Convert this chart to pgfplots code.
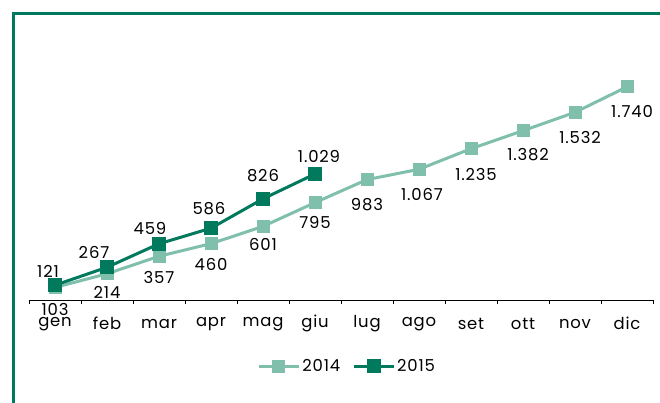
\documentclass[border=0pt]{standalone}
\usepackage{pgfplots}
\pgfplotsset{compat=1.18}
\usepackage{pgfplotstable}
\usepackage{fontspec}
\setmainfont{Poppins}[LetterSpace=5]
\definecolor{light}{RGB}{127,191,172}
\definecolor{dark}{RGB}{0,121,92}

\pgfplotstableread{
x y lab dx dy
0 103 103 0 -22
1 214 214 0 -19
2 357 357 0 -21
3 460 460 0 -21
4 601 601 0 -18
5 795 795 0 -20
6 983 983 0 -25
7 1067 1.067 3 -25
8 1235 1.235 5 -26
9 1382 1.382 5 -24
10 1532 1.532 5 -25
11 1740 1.740 5 -25
}\tA

\pgfplotstableread{
x y lab dx dy
0 121 121 -7 14
1 267 267 -13 15
2 459 459 -9 15
3 586 586 -2 20
4 826 826 0 23
5 1029 1.029 4 17
}\tB

\begin{document}
\begin{tikzpicture}
\useasboundingbox (0,0) rectangle (660bp,403bp);
\draw[dark, line width=3bp] (13bp,0) -- (13bp,389bp) -- (660bp,389bp);
\begin{axis}[
  at={(29bp,103bp)}, anchor=south west,
  scale only axis, width=624bp, height=245bp,
  xmin=-0.5, xmax=11.5, ymin=0, ymax=2000,
  axis x line=bottom, axis y line=none,
  x axis line style={-, black, line width=1bp},
  xtick={0,...,11},
  xticklabels={gen,feb,mar,apr,mag,giu,lug,ago,set,ott,nov,dic},
  major x tick style={draw=none},
  minor xtick={-0.5,0.5,...,11.5},
  tick align=outside,
  minor tick length=4bp,
  minor x tick style={black, line width=1bp},
  xticklabel style={anchor=center, yshift=-19.5bp},
  font=\fontsize{16.5}{19}\selectfont,
  clip=false,
  legend style={at={(0.51,-0.27)}, anchor=center, draw=none, fill=none,
    legend columns=2, font=\fontsize{16.5}{19}\selectfont,
    /tikz/every even column/.append style={column sep=10bp}},
  legend image code/.code={\draw[mark repeat=2,mark phase=2] plot coordinates {(0bp,0bp) (20bp,0bp) (40bp,0bp)};},
  every node near coord/.append style={black, anchor=center, font=\fontsize{16.5}{19}\selectfont},
]
\addplot[light, line width=3bp, mark=square*, mark size=5bp, mark options={solid},
  nodes near coords, point meta=explicit symbolic,
  visualization depends on={\thisrow{dx} \as \dx},
  visualization depends on={\thisrow{dy} \as \dy},
  every node near coord/.append style={xshift=\dx bp, yshift=\dy bp}]
  table[x=x, y=y, meta=lab]{\tA};
\addlegendentry{2014}
\addplot[dark, line width=3bp, mark=square*, mark size=5.5bp, mark options={solid},
  nodes near coords, point meta=explicit symbolic,
  visualization depends on={\thisrow{dx} \as \dx},
  visualization depends on={\thisrow{dy} \as \dy},
  every node near coord/.append style={xshift=\dx bp, yshift=\dy bp}]
  table[x=x, y=y, meta=lab]{\tB};
\addlegendentry{2015}
\end{axis}
\end{tikzpicture}
\end{document}
